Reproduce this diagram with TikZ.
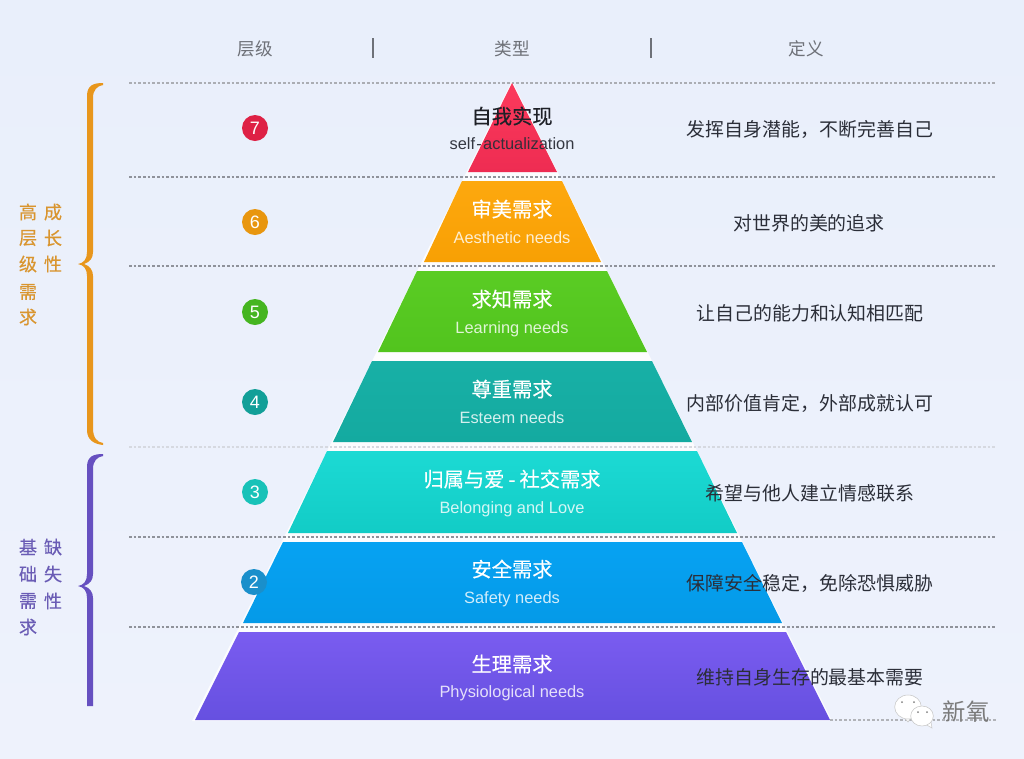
\documentclass[tikz,border=0pt]{standalone}
\usepackage{fontspec}
\setmainfont{Liberation Sans}
\newfontfamily\cjk{Noto Sans CJK SC}
\newfontfamily\cjkm[FakeBold=0.35]{Noto Sans CJK SC}
\definecolor{bgA}{HTML}{E9EFFB}
\definecolor{bgB}{HTML}{EEF2FC}
\definecolor{dashgrey}{HTML}{8F929A}
\definecolor{dashfaint}{HTML}{D6D9E0}
\definecolor{headgrey}{HTML}{6E7178}
\definecolor{bodyink}{HTML}{2B2E38}
\definecolor{orangeB}{HTML}{E8961C}
\definecolor{orangeT}{HTML}{D9952F}
\definecolor{purpleB}{HTML}{6650C0}
\definecolor{purpleT}{HTML}{6A5CB5}
\usetikzlibrary{shapes.geometric}
\tikzset{
  rowline/.style={draw=dashgrey,line width=0.85pt,dash pattern=on 2pt off 1.5pt},
  faintline/.style={draw=dashfaint,line width=0.85pt,dash pattern=on 2pt off 1.5pt},
  headtext/.style={inner sep=0pt,text=headgrey,font=\cjk\fontsize{13.2}{15}\selectfont},
  defntext/.style={inner sep=0pt,text=bodyink,font=\cjk\fontsize{14.2}{16}\selectfont},
  titletext/.style={inner sep=0pt,yshift=0.7pt,text=white,font=\cjkm\fontsize{15.2}{17}\selectfont},
  subtext/.style={inner sep=0pt,yshift=-1.2pt,text=white,opacity=.82,text height=8.5pt,text depth=2.5pt,font=\fontsize{12.3}{14}\selectfont},
  badge/.style={circle,inner sep=0pt,minimum size=19.5pt,text=white,font=\fontsize{13.5}{15}\selectfont},
  sideorange/.style={inner sep=0pt,text=orangeT,font=\cjkm\fontsize{13.6}{15}\selectfont},
  sidepurple/.style={inner sep=0pt,text=purpleT,font=\cjkm\fontsize{13.6}{15}\selectfont},
  seprule/.style={draw=headgrey,line width=0.8pt},
  bubble/.style={ellipse,draw=black!22,line width=.4pt,fill=white,inner sep=0pt},
  eye/.style={circle,fill=black!50,inner sep=0pt,minimum size=1.5pt},
}
\begin{document}
\begin{tikzpicture}[x=0.75pt,y=-0.75pt]
\useasboundingbox (0,0) rectangle (1024,758);
\shade[top color=bgA,bottom color=bgB] (0,0) rectangle (1024,758);
% white halo behind the pyramid
\fill[white,opacity=.85] (512,81) -- (832,721) -- (192,721) -- cycle;
% row lines
\draw[rowline,draw=dashgrey!75] (129,83) -- (997,83);
\draw[rowline] (129,177) -- (997,177);
\draw[rowline] (129,266) -- (997,266);
\draw[faintline] (129,447) -- (997,447);
\draw[rowline] (129,537) -- (997,537);
\draw[rowline] (129,627) -- (997,627);
\draw[rowline,draw=dashgrey!70] (830,720) -- (997,720);
% header separators
\draw[seprule] (373,38) -- (373,58);
\draw[seprule] (651,38) -- (651,58);
% pyramid layers
\shade[top color={rgb,255:red,252;green,58;blue,92},bottom color={rgb,255:red,238;green,44;blue,82}] (512,83) -- (557,172) -- (468,172) -- cycle;
\shade[top color={rgb,255:red,253;green,168;blue,14},bottom color={rgb,255:red,248;green,160;blue,4}] (462,181) -- (562,181) -- (601,262) -- (424,262) -- cycle;
\shade[top color={rgb,255:red,90;green,204;blue,36},bottom color={rgb,255:red,82;green,196;blue,30}] (417,271) -- (607,271) -- (647,352) -- (378,352) -- cycle;
\shade[top color={rgb,255:red,24;green,176;blue,166},bottom color={rgb,255:red,20;green,170;blue,160}] (372,361) -- (652,361) -- (692,442) -- (333,442) -- cycle;
\shade[top color={rgb,255:red,28;green,218;blue,212},bottom color={rgb,255:red,18;green,204;blue,198}] (327,451) -- (697,451) -- (737,533) -- (288,533) -- cycle;
\shade[top color={rgb,255:red,6;green,162;blue,242},bottom color={rgb,255:red,5;green,154;blue,232}] (283,542) -- (742,542) -- (782,623) -- (243,623) -- cycle;
\shade[top color={rgb,255:red,122;green,92;blue,240},bottom color={rgb,255:red,102;green,80;blue,224}] (239,632) -- (786,632) -- (830,720) -- (195,720) -- cycle;
% braces
\fill[orangeB] (103,83) .. controls (94,83) and (87,85) .. (87,96) -- (87,252) .. controls (87,259) and (84,263) .. (78,264) .. controls (84,265) and (87,269) .. (87,276) -- (87,430) .. controls (87,440) and (94,444) .. (103,445) -- (103,443) .. controls (97,442) and (93,438) .. (93,428) -- (93,276) .. controls (93,270) and (90,266) .. (84,264) .. controls (90,262) and (93,258) .. (93,252) -- (93,98) .. controls (93,90) and (97,86) .. (103,85) -- cycle;
\fill[purpleB] (103,454) .. controls (94,454) and (87,456) .. (87,467) -- (87,574) .. controls (87,581) and (84,585) .. (78,586) .. controls (84,587) and (87,591) .. (87,598) -- (87,706) -- (93,706) -- (93,598) .. controls (93,592) and (90,588) .. (84,586) .. controls (90,584) and (93,580) .. (93,574) -- (93,469) .. controls (93,461) and (97,457) .. (103,456) -- cycle;
% header text
\node[headtext] (h1) at (255,49) {层级};
\node[headtext] (h2) at (512,49) {类型};
\node[headtext] (h3) at (806,49) {定义};
% badges
\node[badge,fill={rgb,255:red,222;green,33;blue,69}] (b7) at (255,128) {7};
\node[badge,fill={rgb,255:red,232;green,150;blue,15}] (b6) at (255,222) {6};
\node[badge,fill={rgb,255:red,69;green,181;blue,32}] (b5) at (255,312) {5};
\node[badge,fill={rgb,255:red,18;green,159;blue,152}] (b4) at (255,402) {4};
\node[badge,fill={rgb,255:red,24;green,194;blue,184}] (b3) at (255,492) {3};
\node[badge,fill={rgb,255:red,26;green,143;blue,203}] (b2) at (254,582) {2};
% pyramid text
\node[titletext,text=bodyink!70!black] (t7) at (512,117) {自我实现};
\node[subtext,text=bodyink,opacity=.95] (s7) at (512,144) {self\kern1pt-\kern1pt actualization};
\node[titletext] (t6) at (512,210) {审美需求};
\node[subtext] (s6) at (512,238) {Aesthetic needs};
\node[titletext] (t5) at (512,300) {求知需求};
\node[subtext] (s5) at (512,328) {Learning needs};
\node[titletext] (t4) at (512,390) {尊重需求};
\node[subtext] (s4) at (512,418) {Esteem needs};
\node[titletext] (t3) at (512,480) {归属与爱\kern3pt-\kern3pt社交需求};
\node[subtext] (s3) at (512,508) {Belonging and Love};
\node[titletext] (t2) at (512,570) {安全需求};
\node[subtext] (s2) at (512,598) {Safety needs};
\node[titletext] (t1) at (512,665) {生理需求};
\node[subtext] (s1) at (512,692) {Physiological needs};
% definitions
\node[defntext] (d7) at (810,129) {发挥自身潜能，不断完善自己};
\node[defntext] (d6) at (809,223) {对世界的美的追求};
\node[defntext] (d5) at (810,313) {让自己的能力和认知相匹配};
\node[defntext] (d4) at (810,403) {内部价值肯定，外部成就认可};
\node[defntext] (d3) at (810,493) {希望与他人建立情感联系};
\node[defntext] (d2) at (810,583) {保障安全稳定，免除恐惧威胁};
\node[defntext] (d1) at (810,677) {维持自身生存的最基本需要};
% side text
\node[sideorange] (o1) at (28,212) {高};
\node[sideorange] (o2) at (28,238) {层};
\node[sideorange] (o3) at (28,264) {级};
\node[sideorange] (o4) at (28,292) {需};
\node[sideorange] (o5) at (28,317) {求};
\node[sideorange] (o6) at (53,212) {成};
\node[sideorange] (o7) at (53,238) {长};
\node[sideorange] (o8) at (53,264) {性};
\node[sidepurple] (p1) at (28,547) {基};
\node[sidepurple] (p2) at (28,574) {础};
\node[sidepurple] (p3) at (28,601) {需};
\node[sidepurple] (p4) at (28,627) {求};
\node[sidepurple] (p5) at (53,547) {缺};
\node[sidepurple] (p6) at (53,574) {失};
\node[sidepurple] (p7) at (53,601) {性};
% watermark
\fill[white,draw=black!22,line width=.4pt] (903,716) -- (908,722) -- (912,716) -- cycle;
\node[bubble,minimum width=20pt,minimum height=18pt] (w1) at (908,707) {};
\fill[white,draw=black!22,line width=.4pt] (925,724) -- (932,728) -- (931,722) -- cycle;
\node[bubble,minimum width=17pt,minimum height=15pt] (w2) at (922,716) {};
\node[eye] (e1) at (902,702) {};
\node[eye] (e2) at (914,702) {};
\node[eye] (e3) at (918,712) {};
\node[eye] (e4) at (927,712) {};
\node[inner sep=0pt,text=black!52,font=\cjk\fontsize{17.5}{19}\selectfont] (wm) at (966,712) {新氧};
\end{tikzpicture}
\end{document}
